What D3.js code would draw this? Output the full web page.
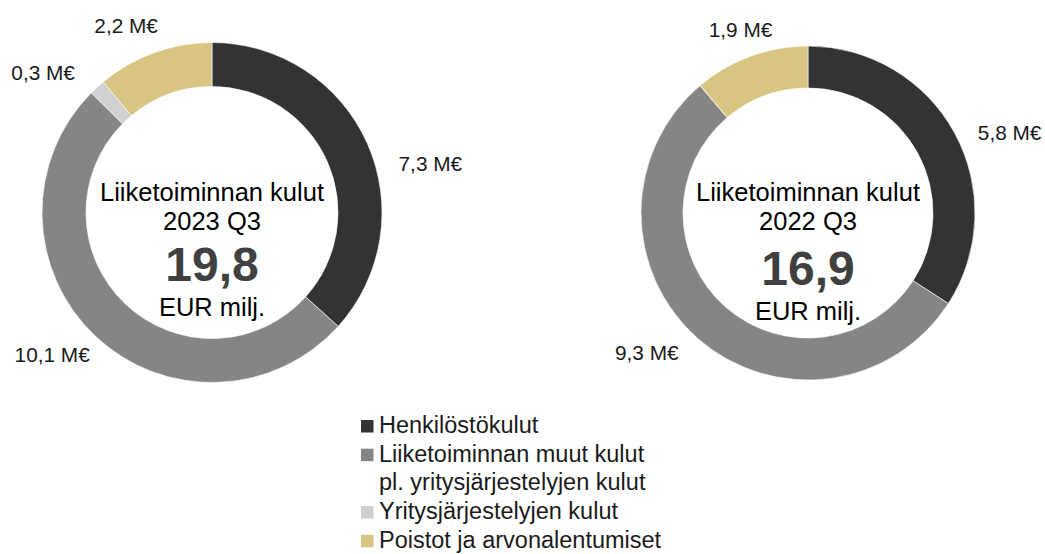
<!DOCTYPE html>
<html>
<head>
<meta charset="utf-8">
<script src="https://cdn.jsdelivr.net/npm/d3@7"></script>
<style>
  body { margin: 0; background: #fff; }
  svg { display: block; font-family: "Liberation Sans", Arial, sans-serif; }
</style>
</head>
<body>
<svg width="1045" height="554"></svg>
<script>
// categories and colours
var categories = ['Henkilöstökulut', 'Liiketoiminnan muut kulut pl. yritysjärjestelyjen kulut', 'Yritysjärjestelyjen kulut', 'Poistot ja arvonalentumiset'];
var colors = ['#333333', '#858585', '#d0d0d0', '#d8c483'];

// values, M€
var values2023 = [7.3, 10.1, 0.3, 2.2];
var values2022 = [5.8, 9.3, 0, 1.9];
var totals = ['19,8', '16,9'];
var periods = ['2023 Q3', '2022 Q3'];

var width = 1045;
var height = 554;
var svg = d3.select('svg');

var charts = [
  {values: values2023, period: periods[0], total: totals[0], cx: 212, cy: 212.5, outer: 170, inner: 126,
   // label nudges from the outer arc midpoint
   nudge: [[63, 20], [-43, 19], [-54, -14], [-28, -27]], numY: 281},
  {values: values2022, period: periods[1], total: totals[1], cx: 808, cy: 213, outer: 167, inner: 125,
   nudge: [[55, 0], [-51, 14], [0, 0], [-10, -26]], numY: 285}
];

var fmt = function(v) { return String(v.toFixed(1)).replace('.', ',') + ' M€'; };

charts.forEach(function(c) {
  var pie = d3.pie().sort(null).value(function(d) { return d; });
  var arcs = pie(c.values);
  var arc = d3.arc().innerRadius(c.inner).outerRadius(c.outer);
  var labelArc = d3.arc().innerRadius(c.outer).outerRadius(c.outer);

  var g = svg.append('g')
    .attr('transform', `translate(${c.cx}, ${c.cy})`);

  g.selectAll('.slice')
    .data(arcs)
    .enter()
    .append('path')
    .attr('class', 'slice')
    .attr('d', arc)
    .attr('fill', function(d, i) { return colors[i]; })
    .attr('stroke', '#fff')
    .attr('stroke-width', 0.6);

  g.selectAll('.lbl')
    .data(arcs.filter(function(d) { return d.data > 0; }))
    .enter()
    .append('text')
    .attr('class', 'lbl')
    .attr('x', function(d) { return labelArc.centroid(d)[0] + c.nudge[d.index][0]; })
    .attr('y', function(d) { return labelArc.centroid(d)[1] + c.nudge[d.index][1]; })
    .attr('dy', '0.35em')
    .attr('text-anchor', 'middle')
    .attr('font-size', 20.8)
    .attr('fill', '#1a1a1a')
    .text(function(d) { return fmt(d.data); });

  // centre text
  var t = svg.append('g').attr('text-anchor', 'middle');
  t.append('text').attr('x', c.cx).attr('y', 200.5).attr('font-size', 25.5).text('Liiketoiminnan kulut');
  t.append('text').attr('x', c.cx).attr('y', 230).attr('font-size', 25.5).text(c.period);
  t.append('text').attr('x', c.cx).attr('y', c.numY).attr('font-size', 48).attr('font-weight', 'bold')
    .attr('fill', '#404040').text(c.total);
  t.append('text').attr('x', c.cx).attr('y', c.numY + 35).attr('font-size', 25.5).text('EUR milj.');
});

// legend
var legendLines = [['Henkilöstökulut'], ['Liiketoiminnan muut kulut', 'pl. yritysjärjestelyjen kulut'], ['Yritysjärjestelyjen kulut'], ['Poistot ja arvonalentumiset']];
var lineH = 28.7;
var legend = svg.append('g').attr('transform', 'translate(361, 433)');
var row = 0;
legendLines.forEach(function(lines, i) {
  var y = row * lineH;
  legend.append('rect')
    .attr('x', 0).attr('y', y - 13).attr('width', 12.5).attr('height', 12.5)
    .attr('fill', colors[i]);
  var txt = legend.append('text').attr('x', 18).attr('y', y).attr('font-size', 23.5).attr('fill', '#1a1a1a');
  lines.forEach(function(l, k) {
    txt.append('tspan').attr('x', 18).attr('y', y + k * lineH).text(l);
  });
  row += lines.length;
});
</script>
</body>
</html>
